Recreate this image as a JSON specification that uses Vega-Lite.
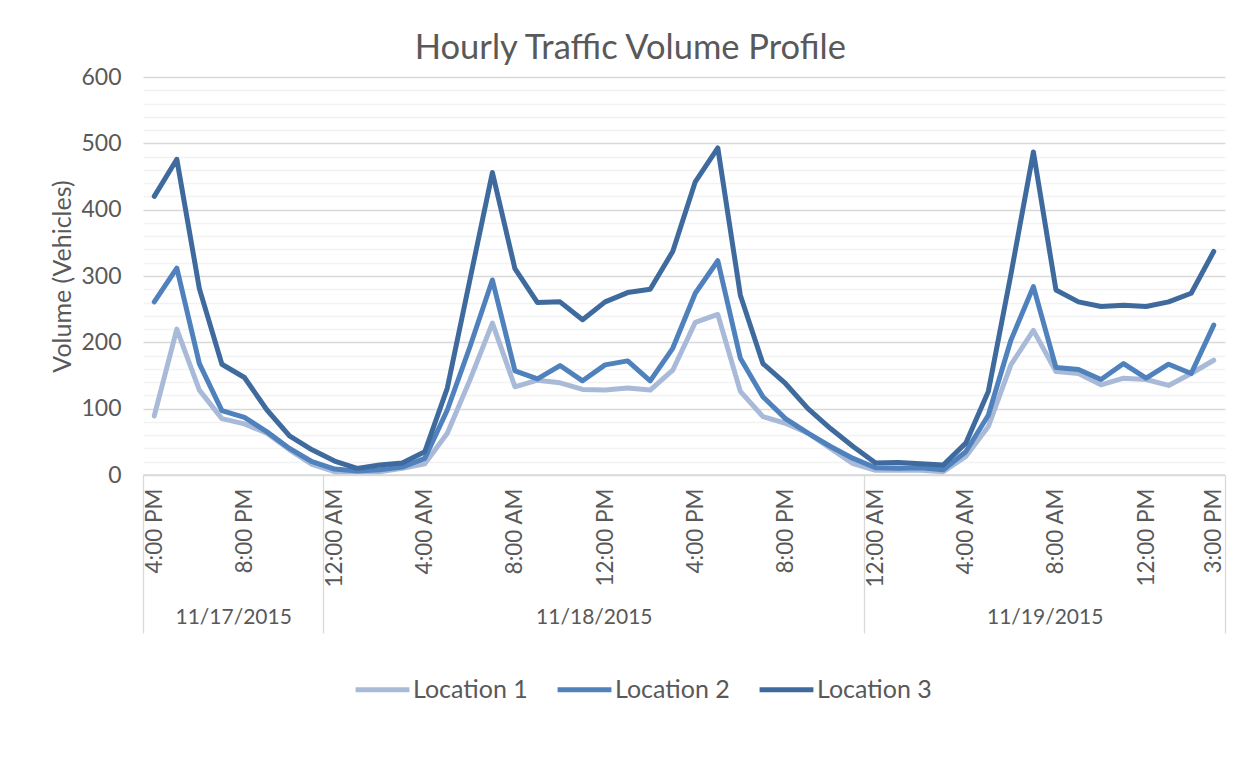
{
  "$schema": "https://vega.github.io/schema/vega-lite/v6.json",
  "width": 1082,
  "height": 398,
  "autosize": {"type": "none"},
  "padding": {"left": 143, "top": 77, "right": 28, "bottom": 282},
  "background": "white",
  "config": {
    "font": "Lato",
    "view": {"stroke": null},
    "axis": {"labelColor": "#595959", "titleColor": "#595959", "labelFont": "Lato", "titleFont": "Lato"},
    "legend": {"labelFont": "Lato"}
  },
  "title": {
    "text": "Hourly Traffic Volume Profile",
    "fontSize": 34.5,
    "fontWeight": "normal",
    "color": "#595959",
    "anchor": "middle",
    "frame": "bounds",
    "offset": 0,
    "dx": -8
  },
  "datasets": {
    "hourly": [
      {"i": 0, "Location 1": 89, "Location 2": 261, "Location 3": 420},
      {"i": 1, "Location 1": 220, "Location 2": 312, "Location 3": 476},
      {"i": 2, "Location 1": 128, "Location 2": 168, "Location 3": 281},
      {"i": 3, "Location 1": 85, "Location 2": 97, "Location 3": 167},
      {"i": 4, "Location 1": 77, "Location 2": 87, "Location 3": 147},
      {"i": 5, "Location 1": 63, "Location 2": 65, "Location 3": 98},
      {"i": 6, "Location 1": 38, "Location 2": 40, "Location 3": 59},
      {"i": 7, "Location 1": 16, "Location 2": 20, "Location 3": 38},
      {"i": 8, "Location 1": 5, "Location 2": 9, "Location 3": 21},
      {"i": 9, "Location 1": 5, "Location 2": 6, "Location 3": 10},
      {"i": 10, "Location 1": 5, "Location 2": 8, "Location 3": 15},
      {"i": 11, "Location 1": 10, "Location 2": 12, "Location 3": 18},
      {"i": 12, "Location 1": 17, "Location 2": 25, "Location 3": 35},
      {"i": 13, "Location 1": 63, "Location 2": 98, "Location 3": 131},
      {"i": 14, "Location 1": 143, "Location 2": 193, "Location 3": 294},
      {"i": 15, "Location 1": 229, "Location 2": 294, "Location 3": 456},
      {"i": 16, "Location 1": 133, "Location 2": 157, "Location 3": 311},
      {"i": 17, "Location 1": 143, "Location 2": 145, "Location 3": 260},
      {"i": 18, "Location 1": 139, "Location 2": 165, "Location 3": 261},
      {"i": 19, "Location 1": 129, "Location 2": 142, "Location 3": 234},
      {"i": 20, "Location 1": 128, "Location 2": 166, "Location 3": 261},
      {"i": 21, "Location 1": 131, "Location 2": 172, "Location 3": 275},
      {"i": 22, "Location 1": 128, "Location 2": 142, "Location 3": 280},
      {"i": 23, "Location 1": 158, "Location 2": 191, "Location 3": 337},
      {"i": 24, "Location 1": 230, "Location 2": 274, "Location 3": 442},
      {"i": 25, "Location 1": 242, "Location 2": 323, "Location 3": 493},
      {"i": 26, "Location 1": 126, "Location 2": 176, "Location 3": 271},
      {"i": 27, "Location 1": 88, "Location 2": 118, "Location 3": 168},
      {"i": 28, "Location 1": 78, "Location 2": 85, "Location 3": 138},
      {"i": 29, "Location 1": 63, "Location 2": 63, "Location 3": 100},
      {"i": 30, "Location 1": 40, "Location 2": 43, "Location 3": 70},
      {"i": 31, "Location 1": 17, "Location 2": 25, "Location 3": 43},
      {"i": 32, "Location 1": 7, "Location 2": 11, "Location 3": 18},
      {"i": 33, "Location 1": 7, "Location 2": 10, "Location 3": 19},
      {"i": 34, "Location 1": 7, "Location 2": 11, "Location 3": 17},
      {"i": 35, "Location 1": 5, "Location 2": 8, "Location 3": 15},
      {"i": 36, "Location 1": 28, "Location 2": 35, "Location 3": 48},
      {"i": 37, "Location 1": 73, "Location 2": 90, "Location 3": 126},
      {"i": 38, "Location 1": 166, "Location 2": 203, "Location 3": 302},
      {"i": 39, "Location 1": 218, "Location 2": 284, "Location 3": 487},
      {"i": 40, "Location 1": 156, "Location 2": 162, "Location 3": 279},
      {"i": 41, "Location 1": 153, "Location 2": 159, "Location 3": 261},
      {"i": 42, "Location 1": 136, "Location 2": 144, "Location 3": 254},
      {"i": 43, "Location 1": 146, "Location 2": 168, "Location 3": 256},
      {"i": 44, "Location 1": 144, "Location 2": 146, "Location 3": 254},
      {"i": 45, "Location 1": 135, "Location 2": 167, "Location 3": 261},
      {"i": 46, "Location 1": 153, "Location 2": 153, "Location 3": 274},
      {"i": 47, "Location 1": 173, "Location 2": 226, "Location 3": 337}
    ],
    "days": [
      {"day": "11/17/2015", "start": -0.5, "end": 7.5},
      {"day": "11/18/2015", "start": 7.5, "end": 31.5},
      {"day": "11/19/2015", "start": 31.5, "end": 47.5}
    ]
  },
  "layer": [
    {
      "data": {"name": "days"},
      "mark": {"type": "rule", "color": "#d9d9d9", "strokeWidth": 1.3},
      "encoding": {
        "x": {
          "field": "start",
          "type": "quantitative",
          "scale": {"domain": [-0.5, 47.5], "nice": false, "zero": false},
          "axis": {
            "orient": "bottom",
            "values": [-0.5, 3.5, 7.5, 19.5, 31.5, 39.5, 47.5],
            "labelExpr": "datum.value == 3.5 ? '11/17/2015' : datum.value == 19.5 ? '11/18/2015' : datum.value == 39.5 ? '11/19/2015' : ''",
            "title": null,
            "grid": false,
            "domain": false,
            "ticks": true,
            "tickSize": 158,
            "tickColor": "#d9d9d9",
            "tickWidth": 1.3,
            "tickOpacity": {"condition": {"test": "indexof([3.5, 19.5, 39.5], datum.value) >= 0", "value": 0}, "value": 1},
            "labelPadding": -27,
            "labelFontSize": 21,
            "labelAngle": 0,
            "labelAlign": "center",
            "labelBaseline": "top",
            "labelOverlap": false,
            "labelBound": false,
            "labelFlush": false
          }
        },
        "x2": {"field": "end"},
        "y": {
          "datum": 0,
          "type": "quantitative",
          "scale": {"domain": [0, 600], "nice": false},
          "axis": {
            "title": "Volume (Vehicles)",
            "titleFontSize": 25,
            "titleFontWeight": "normal",
            "titlePadding": 5,
            "values": [0, 20, 40, 60, 80, 100, 120, 140, 160, 180, 200, 220, 240, 260, 280, 300, 320, 340, 360, 380, 400, 420, 440, 460, 480, 500, 520, 540, 560, 580, 600],
            "labelExpr": "datum.value % 100 == 0 ? datum.label : ''",
            "labelFontSize": 23,
            "labelPadding": 22,
            "ticks": false,
            "domain": false,
            "grid": true,
            "gridColor": {"condition": {"test": "datum.value % 100 == 0", "value": "#d9d9d9"}, "value": "#f2f2f2"},
            "gridWidth": 1.3
          }
        }
      }
    },
    {
      "data": {"name": "hourly"},
      "transform": [
        {"fold": ["Location 1", "Location 2", "Location 3"], "as": ["location", "volume"]}
      ],
      "mark": {"type": "line", "strokeWidth": 5, "strokeCap": "round", "strokeJoin": "round"},
      "encoding": {
        "x": {
          "field": "i",
          "type": "quantitative",
          "axis": {
            "orient": "bottom",
            "values": [0, 4, 8, 12, 16, 20, 24, 28, 32, 36, 40, 44, 47],
            "labelExpr": "((((16 + datum.value) % 24) % 12) == 0 ? 12 : (((16 + datum.value) % 24) % 12)) + ':00 ' + (((16 + datum.value) % 24) < 12 ? 'AM' : 'PM')",
            "title": null,
            "grid": false,
            "domain": false,
            "ticks": false,
            "labelAngle": -90,
            "labelPadding": 13,
            "labelFontSize": 22.5,
            "labelOverlap": false,
            "labelBound": false,
            "labelFlush": false
          }
        },
        "y": {
          "field": "volume",
          "type": "quantitative",
          "scale": {"domain": [0, 600], "nice": false},
          "axis": {
            "title": "Volume (Vehicles)",
            "titleFontSize": 25,
            "titleFontWeight": "normal",
            "titlePadding": 5,
            "values": [0, 20, 40, 60, 80, 100, 120, 140, 160, 180, 200, 220, 240, 260, 280, 300, 320, 340, 360, 380, 400, 420, 440, 460, 480, 500, 520, 540, 560, 580, 600],
            "labelExpr": "datum.value % 100 == 0 ? datum.label : ''",
            "labelFontSize": 23,
            "labelPadding": 22,
            "ticks": false,
            "domain": false,
            "grid": true,
            "gridColor": {"condition": {"test": "datum.value % 100 == 0", "value": "#d9d9d9"}, "value": "#f2f2f2"},
            "gridWidth": 1.3
          }
        },
        "color": {
          "field": "location",
          "type": "nominal",
          "scale": {"domain": ["Location 1", "Location 2", "Location 3"], "range": ["#A9BAD9", "#4F81BD", "#3E6A9E"]},
          "legend": {
            "title": null,
            "orient": "none",
            "legendX": 210,
            "legendY": 583,
            "direction": "horizontal",
            "symbolType": "stroke",
            "symbolSize": 2900,
            "symbolStrokeWidth": 5,
            "labelFontSize": 25,
            "labelColor": "#595959",
            "labelOffset": 1,
            "columnPadding": 19
          }
        }
      }
    }
  ],
  "resolve": {"axis": {"x": "independent"}}
}
